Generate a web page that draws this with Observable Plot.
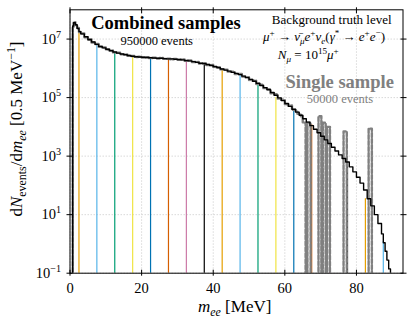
<!DOCTYPE html>
<html><head><meta charset="utf-8">
<script src="https://cdn.jsdelivr.net/npm/d3@7"></script>
<script src="https://cdn.jsdelivr.net/npm/@observablehq/plot@0.6"></script>
<style>body{margin:0;background:#fff} svg{display:block}</style>
</head><body><div id="chart"></div>
<script>
// ---- data ----
const xTicks = [0, 20, 40, 60, 80];
const yTickExponents = [-1, 1, 3, 5, 7];

// left edges of the individual samples (5 MeV windows) and their colours
const sampleEdges = [2.5, 7.5, 12.5, 17.5, 22.5, 27.5, 32.5, 37.5, 42.5, 47.5, 52.5, 57.5, 62.5, 67.5, 72.5, 77.5, 82.5, 87.5];
const sampleTops  = [1.75e7, 6.0e6, 3.5e6, 2.6e6, 2.3e6, 2.15e6, 1.85e6, 1.45e6, 9.1e5, 6.6e5, 2.9e5, 1.0e5, 3.6e4, 1.2e4, 2.7e3, 630, 35, 1.2];
const sampleColors = ["#E69F00", "#56B4E9", "#009E73", "#F0E442", "#0072B2", "#D55E00", "#CC79A7", "#000000"];

// combined samples histogram (bin left edges, values), last edge
const combinedBinLeft = [0.75, 1, 1.5, 2, 2.5,
  3, 4, 5, 6, 7, 8, 9, 10, 11, 12, 13, 14, 15, 16, 17, 18, 19, 20, 21, 22, 23, 24, 25, 26, 27, 28, 29, 30,
  31, 32, 33, 34, 35, 36, 37, 38, 39, 40, 41, 42, 43, 44, 45, 46, 47, 48, 49, 50, 51, 52, 53, 54, 55, 56, 57, 58, 59, 60,
  61, 62, 63, 64, 65, 66, 67, 68, 69, 70, 71, 72, 73, 74, 75, 76, 77, 78, 79, 80, 81, 82, 83, 84, 85, 86,
  87, 87.5, 88, 88.5, 89];
const combinedValues = [2.8e7, 3.6e7, 3.1e7, 2.3e7, 1.8e7,
  1.5e7, 1.2e7, 9.5e6, 7.9e6, 6.6e6, 5.6e6, 5.0e6, 4.5e6, 4.0e6, 3.6e6, 3.3e6, 3.1e6, 2.9e6, 2.75e6, 2.6e6, 2.5e6, 2.45e6, 2.4e6, 2.35e6, 2.3e6, 2.25e6, 2.2e6, 2.2e6, 2.15e6, 2.1e6, 2.1e6, 2.05e6, 2.0e6,
  1.95e6, 1.85e6, 1.8e6, 1.7e6, 1.6e6, 1.5e6, 1.45e6, 1.35e6, 1.25e6, 1.15e6, 1.05e6, 9.5e5, 8.7e5, 8.0e5, 7.3e5, 6.7e5, 6.1e5, 5.4e5, 4.8e5, 4.2e5, 3.6e5, 3.1e5, 2.6e5, 2.2e5, 1.85e5, 1.5e5, 1.2e5, 9.8e4, 7.9e4, 6.3e4,
  5.0e4, 4.0e4, 3.2e4, 2.5e4, 1.9e4, 1.45e4, 1.1e4, 8.3e3, 6.3e3, 4.8e3, 3.6e3, 2.7e3, 2.0e3, 1.5e3, 1.1e3, 830, 630, 430, 290, 190, 120, 70, 35, 20, 10, 5,
  2.2, 1.1, 0.56, 0.28, 0.14];
const combinedEnd = 89.5;

// single sample histogram (0 = empty bin)
const singleBinLeft = [0.75, 1, 1.5, 2, 2.5,
  3, 4, 5, 6, 7, 8, 9, 10, 11, 12, 13, 14, 15, 16, 17, 18, 19, 20, 21, 22, 23, 24, 25, 26, 27, 28, 29, 30,
  31, 32, 33, 34, 35, 36, 37, 38, 39, 40, 41, 42, 43, 44, 45, 46, 47, 48, 49, 50, 51, 52, 53, 54, 55, 56, 57, 58, 59, 60,
  61, 62, 63, 63.5, 64, 64.5,
  65, 65.8, 66.3, 67.2, 69.4, 70.2, 70.6, 71.4, 71.8, 72.6, 76.4, 77.3, 83.4];
const singleValues = [2.6e7, 3.8e7, 3.0e7, 2.4e7, 1.75e7,
  1.55e7, 1.15e7, 9.8e6, 7.6e6, 6.8e6, 5.5e6, 5.2e6, 4.4e6, 4.1e6, 3.5e6, 3.4e6, 3.0e6, 3.0e6, 2.7e6, 2.65e6, 2.45e6, 2.5e6, 2.35e6, 2.4e6, 2.25e6, 2.3e6, 2.15e6, 2.25e6, 2.1e6, 2.15e6, 2.05e6, 2.1e6, 1.95e6,
  2.0e6, 1.8e6, 1.85e6, 1.65e6, 1.65e6, 1.45e6, 1.5e6, 1.3e6, 1.3e6, 1.1e6, 1.1e6, 9.2e5, 9.0e5, 7.7e5, 7.6e5, 6.4e5, 6.4e5, 5.2e5, 5.0e5, 4.0e5, 3.8e5, 2.9e5, 2.75e5, 2.1e5, 1.95e5, 1.4e5, 1.3e5, 9.2e4, 8.4e4, 5.9e4,
  5.4e4, 3.8e4, 3.4e4, 2.8e4, 2.6e4, 2.3e4,
  1.4e4, 0, 1.4e4, 0, 2.3e4, 0, 1.4e4, 0, 1.0e4, 0, 7.0e3, 0, 8.7e3];
const singleEnd = 84.3;

// ---- build step rows ----
const FLOOR = 1e-3; // empty bins fall below the axis (clipped)
function stepRows(left, values, end) {
  const n = Math.min(left.length, values.length);
  const rows = [{m: left[0], v: FLOOR}];
  for (let i = 0; i < n; i++) rows.push({m: left[i], v: values[i] > 0 ? values[i] : FLOOR});
  rows.push({m: end, v: values[n - 1] > 0 ? values[n - 1] : FLOOR});
  rows.push({m: end, v: FLOOR});
  return rows;
}
const combinedRows = stepRows(combinedBinLeft, combinedValues, combinedEnd);
const singleRows = stepRows(singleBinLeft, singleValues, singleEnd);
const sampleRows = sampleEdges.map((x, i) => ({x, top: sampleTops[i], color: sampleColors[i % sampleColors.length]}));
const yTicks = yTickExponents.map(e => 10 ** e);

const FONT = "Liberation Serif";
const plot = Plot.plot({
  width: 411, height: 327,
  marginLeft: 69.5, marginRight: 8.5, marginTop: 9.3, marginBottom: 54.3,
  style: {fontFamily: FONT, fontSize: "14.5px", color: "black", background: "white", overflow: "visible"},
  x: {domain: [0, 93], axis: null},
  y: {type: "log", domain: [0.1, 1e8], axis: null},
  color: {type: "identity"},
  marks: [
    Plot.ruleX(xTicks, {stroke: "#c8c8c8", strokeWidth: 0.7, strokeDasharray: "1.5,1.5"}),
    Plot.ruleY(yTicks, {stroke: "#c8c8c8", strokeWidth: 0.7, strokeDasharray: "1.5,1.5"}),
    Plot.ruleX(sampleRows, {x: "x", y1: 0.1, y2: "top", stroke: "color", strokeWidth: 1.2}),
    Plot.line(singleRows, {x: "m", y: "v", curve: "step-after", stroke: "#808080", strokeWidth: 2.4, strokeDasharray: "4,2", clip: true}),
    Plot.line(combinedRows, {x: "m", y: "v", curve: "step-after", stroke: "black", strokeWidth: 1.4, clip: true}),
    Plot.frame({stroke: "black", strokeWidth: 1}),
    Plot.axisX({ticks: xTicks, anchor: "bottom", tickSize: 6, dy: -3, tickFormat: () => "", label: null}),
    Plot.axisX({ticks: xTicks, anchor: "top", tickSize: 6, dy: 3, tickFormat: () => "", label: null}),
    Plot.axisY({ticks: yTicks, anchor: "left", tickSize: 6, dx: 3, tickFormat: () => "", label: null}),
    Plot.axisY({ticks: yTicks, anchor: "right", tickSize: 6, dx: -3, tickFormat: () => "", label: null}),
    Plot.axisX({ticks: xTicks, anchor: "bottom", tickSize: 0, tickPadding: 10, label: null, fontSize: 14.5})
  ]
});
document.getElementById("chart").appendChild(plot);

// ---- rich text annotations ----
const svg = d3.select(plot);
function richText(x, y, segs, {anchor = "middle", size = 13, fill = "black", weight = "normal", transform = null} = {}) {
  const t = svg.append("text")
    .attr("x", x).attr("y", y)
    .attr("text-anchor", anchor)
    .attr("font-family", FONT)
    .attr("font-size", size)
    .attr("font-weight", weight)
    .attr("fill", fill);
  if (transform) t.attr("transform", transform);
  let shift = 0;
  for (const s of segs) {
    const target = s.sup ? -0.4 * size : s.sub ? 0.25 * size : 0;
    const ts = t.append("tspan").text(s.t);
    if (target !== shift) ts.attr("dy", target - shift);
    shift = target;
    if (s.sup || s.sub) ts.attr("font-size", size * 0.7);
    if (s.i) ts.attr("font-style", "italic");
  }
  return t;
}

// y tick labels 10^n
const ys = plot.scale("y");
for (const e of yTickExponents) {
  richText(61, ys.apply(10 ** e) + 5, [{t: "10"}, {t: e < 0 ? "\u2212" + (-e) : String(e), sup: true}], {anchor: "end", size: 14.5});
}

// axis labels
richText(234.7, 312, [{t: "m", i: true}, {t: "ee", i: true, sub: true}, {t: " [MeV]"}], {size: 17});
richText(0, 0, [{t: "d"}, {t: "N", i: true}, {t: "events", sub: true}, {t: "/d"}, {t: "m", i: true}, {t: "ee", i: true, sub: true},
  {t: " [0.5 MeV"}, {t: "\u22121", sup: true}, {t: "]"}], {size: 17, transform: "translate(22,129) rotate(-90)"});

// annotations
richText(166, 29, [{t: "Combined samples"}], {size: 18.5, weight: "bold"});
richText(156.7, 44.5, [{t: "950000 events"}], {size: 12.5});
richText(331.7, 24, [{t: "Background truth level"}], {size: 13});
richText(324, 41, [{t: "\u03bc", i: true}, {t: "+", sup: true}, {t: " \u2192 "}, {t: "\u03bd\u0304", i: true}, {t: "\u03bc", i: true, sub: true},
  {t: "e", i: true}, {t: "+", sup: true}, {t: "\u03bd", i: true}, {t: "e", i: true, sub: true}, {t: "("}, {t: "\u03b3", i: true}, {t: "*", sup: true},
  {t: " \u2192 "}, {t: "e", i: true}, {t: "+", sup: true}, {t: "e", i: true}, {t: "\u2212", sup: true}, {t: ")"}], {size: 13});
richText(308.3, 59, [{t: "N", i: true}, {t: "\u03bc", i: true, sub: true}, {t: " = 10"}, {t: "15", sup: true}, {t: "\u03bc", i: true}, {t: "+", sup: true}], {size: 13});
richText(339.7, 87.5, [{t: "Single sample"}], {size: 18.5, weight: "bold", fill: "#808080"});
richText(340, 102.5, [{t: "50000 events"}], {size: 12.5, fill: "#808080"});
</script>
</body></html>
